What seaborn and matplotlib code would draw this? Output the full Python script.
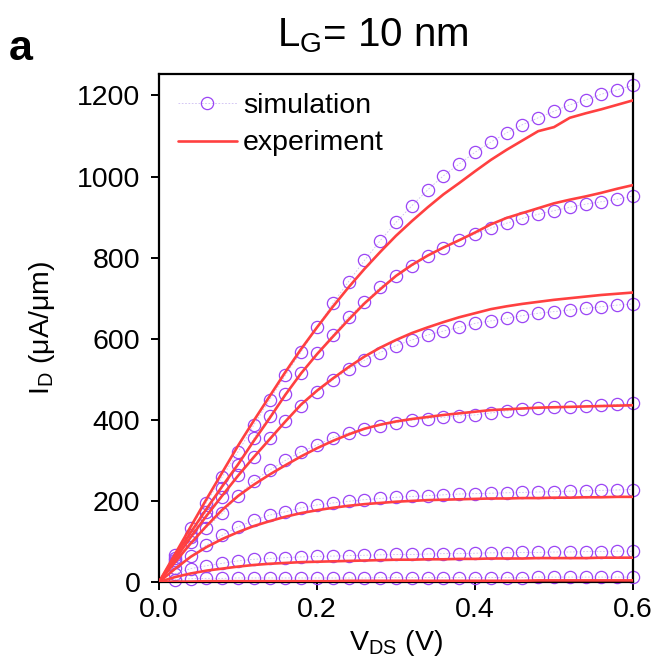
import numpy as np
import pandas as pd
import matplotlib
matplotlib.use("Agg")
import matplotlib.pyplot as plt
import seaborn as sns
from matplotlib.lines import Line2D

# ---------------- data ----------------
v_sim = [0.02, 0.04, 0.06, 0.08, 0.10, 0.12, 0.14, 0.16, 0.18, 0.20,
         0.22, 0.24, 0.26, 0.28, 0.30, 0.32, 0.34, 0.36, 0.38, 0.40,
         0.42, 0.44, 0.46, 0.48, 0.50, 0.52, 0.54, 0.56, 0.58, 0.60]

sim_1 = [66, 132, 196, 259, 321, 387, 449, 510, 568, 628,
         687, 741, 793, 842, 887, 928, 967, 1002, 1031, 1060,
         1085, 1108, 1128, 1145, 1161, 1177, 1189, 1203, 1214, 1225]
sim_2 = [58, 117, 173, 232, 288, 354, 409, 463, 515, 564,
         609, 654, 690, 727, 755, 779, 804, 825, 844, 858,
         873, 885, 897, 907, 916, 924, 932, 938, 944, 952]
sim_3 = [55, 110, 160, 210, 263, 309, 354, 398, 434, 469,
         498, 525, 547, 566, 583, 597, 609, 619, 628, 638,
         644, 650, 657, 663, 667, 671, 675, 679, 683, 686]
sim_4 = [50, 99, 134, 169, 212, 250, 276, 300, 321, 338,
         356, 368, 378, 386, 393, 399, 403, 406, 410, 412,
         417, 422, 426, 428, 431, 432, 434, 436, 438, 442]
sim_5 = [35, 64, 91, 115, 136, 152, 165, 173, 183, 190,
         195, 199, 203, 206, 209, 211, 213, 215, 217, 218,
         219, 220, 221, 222, 223, 224, 225, 226, 227, 228]
sim_6 = [20, 33, 40, 46, 52, 56, 58, 60, 62, 63,
         64, 65, 66, 67, 68, 68, 69, 70, 70, 71,
         72, 72, 73, 73, 74, 74, 75, 75, 76, 76]
sim_7 = [6, 8, 9, 9, 10, 10, 10, 10, 10, 10,
         10, 10, 10, 11, 11, 11, 11, 11, 11, 11,
         11, 11, 11, 12, 12, 12, 12, 12, 12, 12]

v_exp = [0.00, 0.02, 0.04, 0.06, 0.08, 0.10, 0.12, 0.14, 0.16, 0.18, 0.20,
         0.22, 0.24, 0.26, 0.28, 0.30, 0.32, 0.34, 0.36, 0.38, 0.40,
         0.42, 0.44, 0.46, 0.48, 0.50, 0.52, 0.54, 0.56, 0.58, 0.60]

exp_1 = [0, 68, 136, 204, 270, 336, 398, 458, 518, 575, 628,
         679, 727, 772, 814, 854, 890, 924, 956, 984, 1013,
         1041, 1066, 1089, 1112, 1122, 1145, 1156, 1166, 1177, 1188]
exp_2 = [0, 62, 122, 180, 236, 290, 348, 404, 462, 515, 562,
         605, 647, 687, 722, 755, 782, 805, 825, 843, 862,
         882, 898, 910, 922, 934, 943, 951, 960, 970, 979]
exp_3 = [0, 55, 110, 163, 213, 262, 308, 352, 396, 438, 472,
         502, 530, 556, 578, 597, 614, 628, 641, 653, 663,
         673, 680, 686, 691, 696, 700, 704, 708, 711, 714]
exp_4 = [0, 48, 95, 138, 178, 212, 240, 265, 288, 310, 330,
         348, 364, 378, 388, 396, 402, 407, 412, 416, 420,
         424, 426, 428, 430, 431, 432, 433, 434, 435, 436]
exp_5 = [0, 32, 62, 86, 106, 123, 138, 150, 161, 170, 177,
         183, 188, 192, 195, 198, 200, 202, 203, 204, 205,
         206, 206, 207, 207, 208, 208, 209, 209, 210, 210]
exp_6 = [0, 12, 21, 28, 33, 38, 42, 45, 47, 49, 50,
         51, 52, 53, 54, 55, 55, 56, 56, 57, 57,
         58, 58, 58, 59, 59, 59, 59, 60, 60, 60]
exp_7 = [0, 1, 1, 2, 2, 2, 2, 2, 2, 2, 2,
         2, 3, 3, 3, 3, 3, 3, 3, 3, 3,
         3, 3, 3, 4, 4, 4, 4, 4, 4, 4]

sim_curves = [sim_1, sim_2, sim_3, sim_4, sim_5, sim_6, sim_7]
exp_curves = [exp_1, exp_2, exp_3, exp_4, exp_5, exp_6, exp_7]

x_ticks = [0.0, 0.2, 0.4, 0.6]
y_ticks = [0, 200, 400, 600, 800, 1000, 1200]

title_text = "L$_{G}$= 10 nm"
panel_label = "a"
x_label = "V$_{DS}$ (V)"
y_label = "I$_{D}$ (\u03bcA/\u03bcm)"
legend_labels = ["simulation", "experiment"]

# ---------------- style ----------------
sns.set_theme(style="white")
plt.rcParams["font.family"] = ["Liberation Sans", "DejaVu Sans"]
plt.rcParams["mathtext.default"] = "regular"
plt.rcParams["text.color"] = "black"
plt.rcParams["axes.labelcolor"] = "black"
plt.rcParams["xtick.color"] = "black"
plt.rcParams["ytick.color"] = "black"

sim_color = "#9B45F5"
sim_line_color = "#CDBDF2"
exp_color = "#FF4040"

sim_df = pd.concat([pd.DataFrame({"V": v_sim, "I": c, "curve": i})
                    for i, c in enumerate(sim_curves)], ignore_index=True)
exp_df = pd.concat([pd.DataFrame({"V": v_exp, "I": c, "curve": i})
                    for i, c in enumerate(exp_curves)], ignore_index=True)

fig = plt.figure(figsize=(6.58, 6.72), dpi=100)
ax = fig.add_axes([159 / 658, 1 - 582 / 672, (633 - 159) / 658, (582 - 74) / 672])

for i in range(len(sim_curves)):
    sub = sim_df[sim_df["curve"] == i]
    sns.lineplot(data=sub, x="V", y="I", ax=ax, color=sim_line_color,
                 linestyle=(0, (2, 2)), linewidth=0.6, errorbar=None,
                 marker="o", markersize=8.8, markerfacecolor="none",
                 markeredgecolor=sim_color, markeredgewidth=0.9,
                 clip_on=False, legend=False)

for i in range(len(exp_curves)):
    sub = exp_df[exp_df["curve"] == i]
    sns.lineplot(data=sub, x="V", y="I", ax=ax, color=exp_color,
                 linewidth=1.9, errorbar=None, legend=False, zorder=3)

ax.set_xlim(0, 0.6)
ax.set_ylim(0, 1253)
ax.set_xticks(x_ticks)
ax.set_xticklabels([f"{t:.1f}" for t in x_ticks])
ax.set_yticks(y_ticks)
ax.set_yticklabels([str(t) for t in y_ticks])

for sp in ax.spines.values():
    sp.set_visible(True)
    sp.set_color("black")
    sp.set_linewidth(1.6)

ax.tick_params(axis="both", which="major", direction="out", length=5.5,
               width=1.4, colors="black", labelcolor="black", labelsize=20.5,
               bottom=True, left=True, top=False, right=False)
ax.tick_params(axis="y", pad=8)
ax.tick_params(axis="x", pad=5)

ax.set_xlabel(x_label, fontsize=20.5, labelpad=4, color="black")
ax.set_ylabel(y_label, fontsize=20.5, labelpad=14, color="black")

handles = [
    Line2D([], [], color=sim_line_color, linestyle=(0, (2, 2)), linewidth=0.6,
           marker="o", markersize=8.8, markerfacecolor="none",
           markeredgecolor=sim_color, markeredgewidth=0.9),
    Line2D([], [], color=exp_color, linewidth=1.9),
]
leg = ax.legend(handles, legend_labels, loc="upper left", frameon=False,
                fontsize=20.5, bbox_to_anchor=(0.0, 1.0), handlelength=2.1,
                handletextpad=0.2, labelspacing=0.42, borderaxespad=0.25)
for t in leg.get_texts():
    t.set_color("black")

fig.text(373 / 658, 1 - 36 / 672, title_text, ha="center", va="center",
         fontsize=29, color="black")
fig.text(21 / 658, 1 - 49 / 672, panel_label, ha="center", va="center",
         fontsize=31, fontweight="bold", color="black")

fig.savefig("out.png", dpi=100)
